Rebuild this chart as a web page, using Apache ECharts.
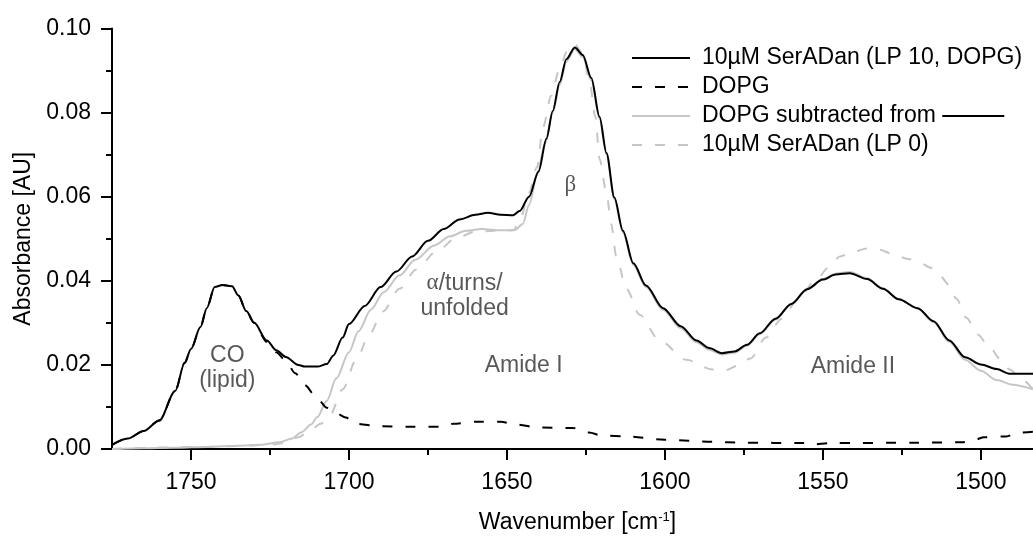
<!DOCTYPE html>
<html>
<head>
<meta charset="utf-8">
<script src="https://cdn.jsdelivr.net/npm/echarts@6/dist/echarts.min.js"></script>
<style>
  html, body { margin: 0; padding: 0; background: #fff; }
  #chart { width: 1033px; height: 539px; }
</style>
</head>
<body>
<div id="chart"></div>
<script>
// FTIR spectra, amide I / amide II region (wavenumber in cm^-1, absorbance in AU)
const seriesNames = [
  '10µM SerADan (LP 10, DOPG)',
  'DOPG',
  'DOPG subtracted from',
  '10µM SerADan (LP 0)'
];

// 10µM SerADan with DOPG vesicles
const wnSample = [1775,1770,1765,1760,1755,1752,1750,1747,1745,1742.5,1740,1737,1735,1732.5,1730,1726,1723,1720,1716,1714,1710,1707,1705,1702,1700,1695,1690,1685,1680,1675,1670,1665,1660,1656,1652,1648,1646,1643,1640,1637.5,1635.5,1633.3,1631.2,1628.5,1626,1623.3,1620.7,1618.5,1616,1613.3,1610,1606,1600.6,1595,1590,1586,1582,1578,1574,1570,1565,1560,1555,1550,1546,1541.5,1536,1531,1526,1520,1515,1510,1505,1500,1495,1491,1483.5];
const absSample = [0.0010,0.0025,0.0043,0.0068,0.0138,0.0205,0.0238,0.0290,0.0335,0.0385,0.0390,0.0387,0.0365,0.0328,0.0300,0.0258,0.0235,0.0219,0.0200,0.0196,0.0196,0.0202,0.0222,0.0265,0.0297,0.0340,0.0385,0.0422,0.0458,0.0495,0.0523,0.0546,0.0557,0.0562,0.0557,0.0556,0.0566,0.0600,0.0660,0.0738,0.0804,0.0873,0.0927,0.0955,0.0937,0.0882,0.0790,0.0704,0.0598,0.0519,0.0442,0.0389,0.0335,0.0292,0.0258,0.0240,0.0228,0.0232,0.0248,0.0275,0.0310,0.0345,0.0380,0.0403,0.0415,0.0418,0.0404,0.0381,0.0356,0.0335,0.0304,0.0258,0.0218,0.0201,0.0190,0.0179,0.0179];

// DOPG vesicles alone
const wnLipid = [1775,1770,1765,1760,1755,1752,1750,1747,1745,1742.5,1740,1737,1735,1732.5,1730,1726,1723,1720,1717,1714,1710,1707,1704,1701,1698,1690,1680,1670,1667,1660,1652,1647,1640,1629,1624,1620,1612,1600,1585,1575,1556,1553,1548,1520,1506,1502,1499,1492,1488,1483.5];
const absLipid = [0.0010,0.0025,0.0043,0.0068,0.0138,0.0205,0.0238,0.0290,0.0335,0.0385,0.0390,0.0387,0.0365,0.0328,0.0300,0.0255,0.0230,0.0210,0.0180,0.0152,0.0120,0.0098,0.0085,0.0075,0.0060,0.0054,0.0053,0.0053,0.0060,0.0065,0.0065,0.0058,0.0051,0.0050,0.0039,0.0032,0.0030,0.0022,0.0017,0.0015,0.0014,0.0011,0.0014,0.0015,0.0016,0.0022,0.0028,0.0030,0.0039,0.0041];

// lipid-subtracted spectrum
const wnCorrected = [1775,1765,1755,1745,1735,1728,1722,1718,1715,1712,1710,1707,1704,1700,1697,1693,1689,1684,1679,1673,1668,1663,1658,1652,1647.5,1645,1643,1640.5,1638,1635.5,1633.3,1631.2,1628.5,1626,1623.3,1620.7,1618.5,1616,1613.3,1610,1606,1600.6,1595,1590,1586,1582,1578,1574,1570,1565,1560,1555,1550,1546,1541.5,1536,1531,1526,1520,1515,1510,1505,1500,1495,1490,1483.5];
const absCorrected = [0.0000,0.0002,0.0003,0.0005,0.0008,0.0010,0.0016,0.0025,0.0040,0.0058,0.0076,0.0115,0.0168,0.0230,0.0280,0.0332,0.0373,0.0413,0.0450,0.0484,0.0506,0.0519,0.0523,0.0520,0.0521,0.0535,0.0580,0.0650,0.0725,0.0800,0.0866,0.0921,0.0951,0.0932,0.0877,0.0785,0.0700,0.0594,0.0515,0.0438,0.0385,0.0331,0.0288,0.0254,0.0236,0.0225,0.0229,0.0246,0.0273,0.0308,0.0344,0.0380,0.0404,0.0417,0.0421,0.0406,0.0382,0.0356,0.0334,0.0302,0.0255,0.0212,0.0186,0.0164,0.0153,0.0142];

// 10µM SerADan without lipid
const wnFree = [1775,1765,1755,1745,1735,1725,1720,1716,1712.5,1709,1706,1702,1697.7,1693.5,1689.3,1684,1678.7,1672.4,1666,1660,1654,1648,1646,1643,1640.5,1638.6,1636,1633.5,1631,1628.5,1626,1624,1622,1620.7,1618.5,1617,1615.4,1612.2,1608,1601.7,1593.2,1585,1581,1577,1573,1568,1563,1558,1553,1548,1544.6,1540,1536,1532,1527.8,1523,1519.3,1515.5,1513,1510,1507.8,1504.6,1501,1497.2,1494,1490.9,1487,1483.5];
const absFree = [0.0000,0.0003,0.0004,0.0005,0.0007,0.0010,0.0015,0.0028,0.0042,0.0060,0.0081,0.0142,0.0212,0.0273,0.0327,0.0381,0.0427,0.0469,0.0502,0.0517,0.0519,0.0520,0.0540,0.0610,0.0670,0.0765,0.0840,0.0900,0.0945,0.0963,0.0940,0.0880,0.0790,0.0690,0.0610,0.0535,0.0458,0.0381,0.0319,0.0258,0.0212,0.0189,0.0187,0.0198,0.0215,0.0265,0.0310,0.0355,0.0395,0.0432,0.0458,0.0470,0.0477,0.0474,0.0463,0.0452,0.0442,0.0430,0.0412,0.0390,0.0358,0.0312,0.0272,0.0242,0.0215,0.0189,0.0165,0.0142];

// axis ticks
const wnMin = 1483.5, wnMax = 1775;
const majorTicksX = [1750, 1700, 1650, 1600, 1550, 1500];
const minorTicksX = [1725, 1675, 1625, 1575, 1525];

// band annotations: [wavenumber, absorbance, text]
const bandLabels = [
  [1738.5, 0.0193, 'CO\n(lipid)'],
  [1663.4, 0.0364, '{g|α}/turns/\nunfolded'],
  [1644.7, 0.0198, 'Amide I'],
  [1629.9, 0.0629, '{g|β}'],
  [1540.5, 0.0196, 'Amide II']
];

const FONT = '"Liberation Sans", Arial, Helvetica, sans-serif';
const GREY = '#c6c6c6';
const INK = '#2e2e2e';
const pairs = (xs, ys) => xs.map((x, i) => [x, ys[i]]);

const lineSeries = (name, xs, ys, color, type, z) => ({
  name, type: 'line', xAxisIndex: 0, yAxisIndex: 0,
  data: pairs(xs, ys),
  symbol: 'none', showSymbol: false,
  smooth: 0.3, smoothMonotone: 'x',
  lineStyle: { color, width: 2, type },
  itemStyle: { color },
  z, silent: true, animation: false
});

const chart = echarts.init(document.getElementById('chart'), null, { renderer: 'canvas' });

chart.setOption({
  backgroundColor: '#fff',
  animation: false,
  textStyle: { fontFamily: FONT },
  grid: { left: 112, right: 0, top: 28.5, bottom: 77.3, containLabel: false },
  legend: {
    data: seriesNames,
    orient: 'vertical',
    left: 631, top: 43.5,
    padding: 0,
    itemWidth: 58, itemHeight: 14, itemGap: 0,
    selectedMode: false,
    itemStyle: { opacity: 0 },
    textStyle: {
      fontFamily: FONT, fontSize: 23, color: '#000', lineHeight: 29,
      padding: [0, 0, 0, 7],
      rich: { ln: { width: 62, height: 2, lineHeight: 29, backgroundColor: '#000' } }
    },
    formatter: name => name === 'DOPG subtracted from' ? name + ' {ln|}' : name
  },
  xAxis: [{
    type: 'value', min: wnMin, max: wnMax, inverse: true,
    position: 'bottom',
    name: 'Wavenumber [cm{sup|-1}]',
    nameLocation: 'middle', nameGap: 62,
    nameTextStyle: {
      fontFamily: FONT, fontSize: 23, color: '#000', padding: [0, 0, 0, 10],
      rich: { sup: { fontFamily: FONT, fontSize: 13, color: '#000', verticalAlign: 'top', padding: [0, 0, 10, 0] } }
    },
    axisLine: { show: true, lineStyle: { color: '#000', width: 2 } },
    axisTick: { show: true, length: 11, inside: false, customValues: majorTicksX, lineStyle: { color: '#000', width: 2 } },
    axisLabel: { customValues: majorTicksX, fontFamily: FONT, fontSize: 23, color: '#000', margin: 22, formatter: v => String(v) },
    splitLine: { show: false }
  }, {
    type: 'value', min: wnMin, max: wnMax, inverse: true,
    position: 'bottom',
    axisLine: { show: false },
    axisTick: { show: true, length: 6, inside: false, customValues: minorTicksX, lineStyle: { color: '#000', width: 2 } },
    axisLabel: { show: false },
    splitLine: { show: false }
  }],
  yAxis: {
    type: 'value', min: 0, max: 0.1, interval: 0.02,
    name: 'Absorbance [AU]',
    nameLocation: 'middle', nameGap: 74,
    nameTextStyle: { fontFamily: FONT, fontSize: 23, color: '#000' },
    axisLine: { show: true, lineStyle: { color: '#000', width: 2 } },
    axisTick: { show: true, length: 11, inside: false, lineStyle: { color: '#000', width: 2 } },
    minorTick: { show: true, splitNumber: 2, length: 6, lineStyle: { color: '#000', width: 2 } },
    axisLabel: { fontFamily: FONT, fontSize: 23, color: '#000', margin: 21, formatter: v => v.toFixed(2) },
    splitLine: { show: false },
    minorSplitLine: { show: false }
  },
  series: [
    lineSeries(seriesNames[3], wnFree, absFree, GREY, [10, 13], 1),
    lineSeries(seriesNames[2], wnCorrected, absCorrected, GREY, 'solid', 2),
    lineSeries(seriesNames[1], wnLipid, absLipid, '#000', [10, 13], 3),
    lineSeries(seriesNames[0], wnSample, absSample, '#000', 'solid', 4),
    {
      name: 'bands', type: 'scatter', symbolSize: 0, silent: true,
      data: bandLabels.map(b => ({ value: [b[0], b[1]], text: b[2] })),
      label: {
        show: true, position: 'inside',
        formatter: p => p.data.text,
        fontFamily: FONT, fontSize: 23, color: INK, lineHeight: 25, align: 'center',
        rich: { g: { fontFamily: '"Liberation Serif", "DejaVu Serif", serif', fontSize: 23, color: INK, lineHeight: 25 } }
      },
      z: 5
    }
  ]
});
</script>
</body>
</html>
